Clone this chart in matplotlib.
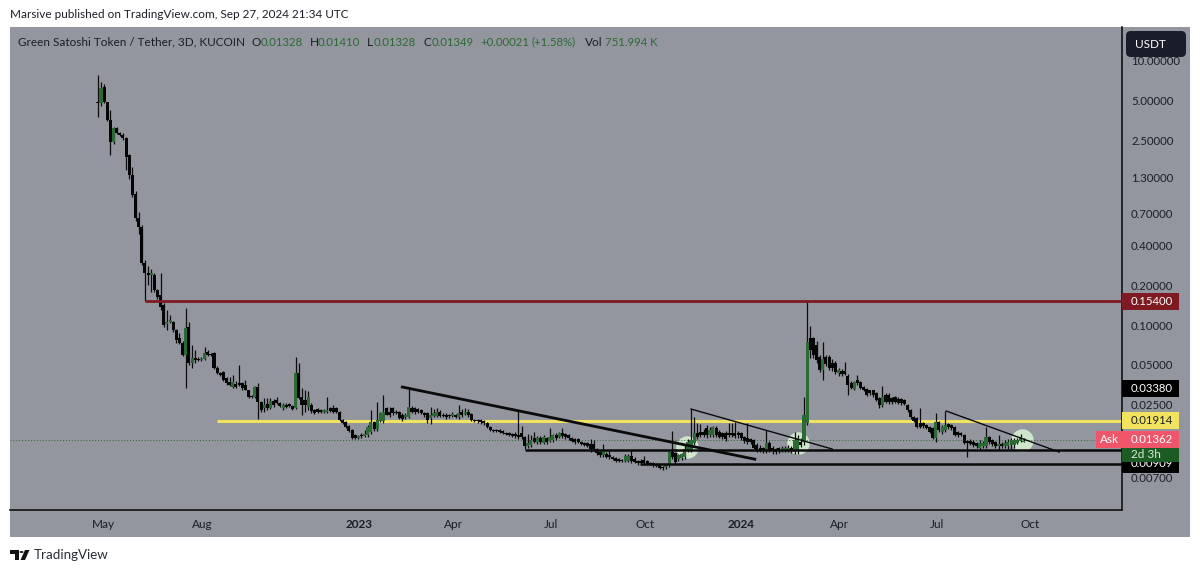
import numpy as np
import pandas as pd
import matplotlib
matplotlib.use('Agg')
import matplotlib.pyplot as plt
from matplotlib.patches import Rectangle, FancyBboxPatch, Polygon, Circle

plt.rcParams['font.family'] = ['Lato', 'DejaVu Sans']

# 3D candles
first_bar = '2022-04-26'
opens = [
    4.97,4.9,6.5,4.97,3.64,2.47,3.15,2.9,2.8,2.65,
    1.98,1.39,1.0,.66,.56,.30,.25,.243,.243,.187,
    .172,.144,.104,.107,.107,.0932,.081,.075,.0603,.098,
    .0525,.0575,.0563,.0552,.0563,.0635,.0612,.0625,.048,.0442,
    .0447,.0403,.0376,.0345,.0364,.037,.037,.0357,.0327,.0295,
    .029,.0345,.0266,.0239,.0257,.0239,.027,.0275,.0261,.0239,
    .0252,.0257,.0248,.0239,.044,.029,.0275,.0243,.0252,.0231,
    .0235,.0231,.0223,.0223,.0239,.0239,.0239,.0223,.0194,.0187,
    .0175,.0163,.0149,.0142,.0149,.0147,.0149,.0157,.0187,.0166,
    .019,.019,.0239,.0223,.0239,.0223,.0223,.0212,.0204,.0204,
    .0239,.0239,.0235,.0231,.022,.022,.0201,.0208,.0208,.0223,
    .0212,.0212,.0212,.0208,.0212,.0204,.0223,.0216,.0223,.0216,
    .0194,.0194,.0194,.019,.0184,.0172,.0163,.0163,.0163,.016,
    .0154,.0154,.0152,.0152,.0149,.0154,.0144,.0123,.0125,.0142,
    .0132,.0142,.013,.0142,.0135,.0137,.0149,.0144,.0154,.0152,
    .0149,.0142,.0139,.0139,.0132,.013,.013,.0128,.0128,.0117,
    .0111,.0105,.0107,.0105,.0102,.01,.0098,.00966,.0095,.0095,
    .0104,.0098,.0095,.0095,.00966,.0095,.00917,.00917,.009,.00885,
    .00855,.00855,.00885,.0111,.0109,.0098,.01,.0102,.0115,.0115,
    .013,.0154,.0157,.0157,.0169,.0149,.0149,.0169,.0157,.0154,
    .0154,.0154,.0154,.0154,.0154,.0154,.0144,.0142,.0139,.0137,
    .0125,.012,.0119,.0113,.013,.0119,.0117,.0119,.0115,.0115,
    .0115,.012,.0111,.0115,.0132,.0132,.0184,.081,.081,.0718,
    .0582,.0464,.0582,.0582,.0525,.0525,.0442,.0455,.0455,.0418,
    .037,.0334,.039,.0376,.0345,.0334,.0327,.0327,.031,.0285,
    .0252,.03,.03,.0285,.029,.028,.028,.0275,.0252,.0231,
    .0204,.0201,.0184,.0184,.0178,.0172,.0169,.0142,.0187,.0157,
    .0163,.0181,.0178,.0172,.0157,.0154,.0149,.0135,.0135,.0132,
    .013,.0119,.0123,.0123,.0144,.0137,.0132,.0123,.0128,.0123,
    .0123,.0125,.0125,.013,.0135,.01328,
]
highs = [
    7.97,7.0,6.85,5.0,4.33,3.2,3.2,2.95,2.9,2.7,
    2.0,1.6,1.05,.73,.58,.316,.285,.27,.25,.19,
    .25,.15,.132,.121,.11,.095,.0885,.077,.137,.107,
    .0718,.0658,.058,.058,.0695,.066,.063,.064,.05,.045,
    .046,.041,.0412,.0426,.038,.0507,.0375,.039,.033,.03,
    .035,.037,.027,.0285,.0285,.0285,.028,.029,.0265,.026,
    .026,.026,.025,.0582,.0525,.034,.0327,.032,.026,.0235,
    .024,.0235,.0235,.029,.0245,.0252,.0245,.0226,.0197,.019,
    .0178,.0165,.0152,.015,.0154,.0163,.0178,.0231,.019,.0266,
    .0225,.03,.0245,.0245,.0245,.023,.0227,.0218,.022,.0345,
    .0248,.0245,.024,.0235,.0225,.0225,.0243,.0235,.0239,.023,
    .0218,.0218,.0216,.0222,.0216,.0252,.0235,.0239,.0235,.022,
    .0197,.0197,.0197,.0194,.0187,.0175,.0166,.0166,.0166,.0163,
    .0157,.0157,.0154,.0157,.023,.0175,.0147,.0152,.0149,.0157,
    .0147,.0147,.0149,.0145,.0169,.0152,.0154,.0157,.0169,.0155,
    .0152,.0145,.0142,.0142,.0135,.0132,.0132,.0139,.0137,.0119,
    .0113,.0128,.0111,.0115,.0104,.0102,.01,.0098,.0107,.0107,
    .0115,.0101,.0097,.0098,.0104,.0097,.0093,.0093,.0091,.009,
    .0087,.009,.0113,.016,.0112,.0108,.011,.0125,.014,.0235,
    .0204,.0184,.0181,.0165,.0178,.0172,.0175,.0175,.0163,.0158,
    .016,.0184,.0184,.0186,.016,.0157,.0147,.0184,.0142,.014,
    .013,.0125,.0121,.0163,.0135,.0123,.012,.0121,.0123,.0123,
    .0125,.0123,.0157,.0149,.0142,.029,.152,.1,.083,.077,
    .06,.0757,.06,.0603,.056,.054,.048,.047,.0535,.043,
    .038,.038,.0426,.0385,.035,.034,.033,.033,.0315,.029,
    .0351,.031,.031,.029,.0295,.029,.0285,.028,.0257,.0235,
    .0208,.0205,.0239,.0187,.0181,.0175,.0172,.0219,.019,.0178,
    .0227,.0185,.0181,.0175,.016,.0157,.0152,.0137,.0139,.0137,
    .0132,.0137,.0135,.0172,.0147,.0139,.0135,.0149,.0132,.0137,
    .0139,.0142,.0142,.0142,.0152,.0141,
]
lows = [
    3.82,4.6,4.9,3.6,1.98,2.4,2.85,2.75,2.55,1.52,
    1.3,.95,.62,.5,.29,.154,.205,.18,.18,.16,
    .132,.098,.093,.105,.09,.075,.073,.059,.034,.0507,
    .0482,.0525,.054,.054,.0552,.059,.059,.047,.043,.042,
    .0385,.036,.035,.034,.034,.035,.033,.0325,.0285,.0285,
    .0285,.0197,.0225,.0223,.0231,.0235,.0245,.0255,.0243,.0232,
    .024,.0245,.023,.0235,.028,.0212,.0223,.023,.022,.0215,
    .0218,.022,.022,.022,.0222,.022,.022,.019,.018,.017,
    .0158,.014,.0139,.014,.0142,.0145,.0145,.0152,.016,.016,
    .0187,.0185,.021,.0205,.0212,.0215,.0197,.0192,.0197,.02,
    .0218,.0215,.0218,.0215,.0205,.0185,.0181,.0203,.0203,.0203,
    .0203,.0197,.02,.0203,.02,.0197,.0205,.021,.0205,.019,
    .0187,.0185,.0182,.0178,.0169,.016,.0157,.0157,.0154,.0152,
    .0149,.0147,.0144,.0142,.014,.014,.0117,.012,.0121,.013,
    .0128,.0128,.0127,.0128,.0132,.0132,.0137,.0142,.0142,.014,
    .0137,.0132,.0128,.013,.0125,.0123,.0121,.0111,.0113,.0105,
    .0102,.0102,.01,.0099,.0097,.0093,.0093,.0093,.0093,.0093,
    .0092,.0092,.0088,.0088,.0088,.0088,.0088,.0086,.0085,.0082,
    .0081,.0082,.0086,.0098,.009,.0095,.0097,.0098,.0112,.0112,
    .0125,.014,.0144,.0145,.0142,.0145,.0144,.0144,.0142,.0139,
    .0135,.0144,.0144,.0142,.0142,.0137,.013,.0128,.0128,.0117,
    .0112,.0111,.0109,.0109,.0111,.0108,.0107,.011,.0111,.0111,
    .0111,.011,.0108,.0108,.0121,.0125,.0178,.0572,.057,.0525,
    .0445,.039,.05,.0465,.046,.043,.042,.042,.0426,.03,
    .0333,.0325,.036,.0333,.032,.0293,.03,.0292,.027,.024,
    .0245,.026,.0258,.0258,.026,.0255,.0252,.025,.0225,.0197,
    .0187,.0169,.0169,.017,.0166,.0154,.014,.0132,.0157,.0152,
    .0158,.0166,.0163,.0147,.0145,.0147,.0127,.0102,.0125,.0121,
    .0119,.0115,.0119,.0119,.0127,.0123,.0119,.0116,.0119,.0119,
    .0118,.0117,.012,.0127,.0132,.01328,
]
closes = [
    4.93,6.4,4.97,3.64,2.47,3.15,2.9,2.8,2.65,1.9,
    1.39,.983,.66,.56,.30,.25,.243,.25,.187,.165,
    .14,.102,.107,.111,.0932,.0783,.075,.0603,.097,.0525,
    .0575,.0552,.0552,.0563,.0625,.0603,.0605,.048,.0442,.0426,
    .039,.0368,.0357,.0376,.0345,.0357,.034,.0327,.029,.029,
    .0345,.0266,.0231,.0252,.0239,.027,.0252,.0261,.0248,.0252,
    .0243,.0248,.0235,.044,.0285,.0252,.0252,.029,.0227,.022,
    .0223,.0223,.0231,.0231,.0227,.0223,.0223,.0194,.0184,.0172,
    .016,.0142,.0142,.0147,.0147,.0152,.0172,.0187,.0166,.0194,
    .022,.0223,.0212,.0212,.022,.022,.0201,.0197,.0212,.0243,
    .0223,.0223,.0223,.022,.0212,.0194,.0212,.022,.0223,.0208,
    .0208,.0204,.0208,.0216,.0204,.022,.0212,.0223,.0212,.0194,
    .019,.019,.0187,.0184,.0172,.0163,.016,.016,.0157,.0154,
    .0152,.0149,.0147,.0147,.0144,.0144,.0123,.013,.0137,.0132,
    .0142,.0132,.0144,.0132,.0144,.0149,.0142,.0154,.0147,.0144,
    .0142,.0135,.0132,.0132,.0128,.0125,.0123,.0117,.0117,.0109,
    .0105,.0113,.0102,.0102,.0098,.0095,.0095,.0095,.0104,.0104,
    .0095,.00933,.00917,.00917,.00917,.009,.009,.00885,.0087,.0084,
    .0084,.00885,.0111,.0102,.00933,.0105,.0107,.0117,.0132,.0137,
    .0154,.0144,.0149,.0149,.0149,.0163,.0172,.0149,.0144,.0144,
    .0139,.0149,.0149,.0147,.0149,.0142,.0135,.0132,.0132,.012,
    .0115,.0115,.0113,.013,.0115,.0113,.0111,.0115,.012,.012,
    .012,.0115,.0137,.0142,.0125,.0212,.0757,.0658,.0603,.0552,
    .0464,.0563,.0515,.048,.048,.0447,.0464,.0432,.0432,.0357,
    .034,.0376,.037,.034,.0327,.03,.031,.03,.0275,.0252,
    .029,.0266,.0266,.0266,.0266,.0261,.0261,.0257,.0231,.0204,
    .019,.0172,.0172,.0175,.0169,.0157,.0142,.0187,.0163,.0172,
    .0178,.0172,.0169,.0149,.0149,.0149,.013,.013,.0128,.0125,
    .0123,.013,.013,.0144,.0132,.0128,.0123,.0128,.0123,.013,
    .0132,.0137,.0137,.0137,.0144,.01349,
]

# drawn levels and trend lines
red_level, red_start = 0.154, '2022-06-10'
yellow_level, yellow_start = 0.01914, '2022-08-18'
support_level, support_start = 0.0116, '2023-06-08'
floor_level, floor_start = 0.00909, '2023-09-26'
last_price = 0.01362
trend_dates = ['2023-02-11', '2024-01-14']
trend_prices = [0.0345, 0.0098]
thin1_dates = ['2023-11-14', '2024-03-28']
thin1_prices = [0.0235, 0.0117]
thin2_dates = ['2024-07-15', '2024-10-31']
thin2_prices = [0.0227, 0.0111]
circle_dates = ['2023-11-10', '2024-02-24', '2024-09-25']
circle_prices = [0.0121, 0.013, 0.0137]

price_ticks = [10, 5, 2.5, 1.3, 0.7, 0.4, 0.2, 0.1, 0.05, 0.025, 0.007]
time_ticks = ['2022-05-01', '2022-08-04', '2023-01-01', '2023-04-01', '2023-07-03',
              '2023-10-01', '2024-01-01', '2024-04-04', '2024-07-06', '2024-10-03']
time_labels = ['May', 'Aug', '2023', 'Apr', 'Jul', 'Oct', '2024', 'Apr', 'Jul', 'Oct']

W, H = 1200, 573
PANEL = '#93969f'
INK = '#1b1e26'
GREEN = '#2b6a35'
FS = 8.5
NUM = 8.2


def box(x0, y0, x1, y1, color, zorder=1):
    fig.add_artist(Rectangle((x0 / W, 1 - y1 / H), (x1 - x0) / W, (y1 - y0) / H, zorder=zorder,
                             transform=fig.transFigure, facecolor=color, edgecolor='none'))


def label(x, y, s, color=INK, size=FS, ha='left', zorder=3, **kw):
    fig.text(x / W, 1 - y / H, s, color=color, fontsize=size, ha=ha, va='center', zorder=zorder, **kw)


def price_y(price):
    return H - ax.transData.transform((0, price))[1]


fig = plt.figure(figsize=(W / 100, H / 100), dpi=100, facecolor='white')
box(10, 27, 1190, 537, PANEL, zorder=-1)

ax = fig.add_axes([10 / W, 1 - 510 / H, 1112 / W, 483 / H], facecolor=PANEL)
ax.set_yscale('log')
ax.set_ylim(0.00404, 18.4)
ax.set_xlim(pd.Timestamp('2022-02-01'), pd.Timestamp('2024-12-30'))
for side in ['top', 'left']:
    ax.spines[side].set_visible(False)
for side in ['right', 'bottom']:
    ax.spines[side].set_color('#111111')
    ax.spines[side].set_linewidth(1.2)
ax.set_xticks([])
ax.set_yticks([])
ax.minorticks_off()
ax.yaxis.set_tick_params(which='both', length=0, labelleft=False)

dates = pd.date_range(first_bar, periods=len(closes), freq='3D')
o = np.array(opens)
c = np.array(closes)
up = c >= o

ax.scatter(pd.to_datetime(circle_dates), circle_prices, s=260, color='#d6efd2', alpha=0.9,
           linewidths=0, zorder=1)
ax.axhline(last_price, color=GREEN, lw=0.7, ls=(0, (1, 2)), zorder=1)

ax.vlines(dates, lows, highs, color='#0c0c0c', lw=0.9, zorder=3)
ax.bar(dates[~up], np.abs(c - o)[~up], bottom=np.minimum(o, c)[~up], width=2.9, color='#050505', zorder=4)
ax.bar(dates[up], np.abs(c - o)[up], bottom=np.minimum(o, c)[up], width=2.9, color=GREEN, zorder=4)

chart_end = pd.Timestamp('2024-12-30')
ax.hlines(red_level, pd.Timestamp(red_start), chart_end, color='#7d1a22', lw=2, zorder=5)
ax.hlines(yellow_level, pd.Timestamp(yellow_start), chart_end, color='#f2e35e', lw=2.2, zorder=2)
ax.hlines(support_level, pd.Timestamp(support_start), chart_end, color='#0a0a0a', lw=1.8, zorder=5)
ax.hlines(floor_level, pd.Timestamp(floor_start), chart_end, color='#0a0a0a', lw=1.8, zorder=5)
ax.plot(pd.to_datetime(trend_dates), trend_prices, color='#0a0a0a', lw=2, zorder=5)
ax.plot(pd.to_datetime(thin1_dates), thin1_prices, color='#0a0a0a', lw=1, zorder=5)
ax.plot(pd.to_datetime(thin2_dates), thin2_prices, color='#0a0a0a', lw=1, zorder=5)

# price scale
for p in price_ticks:
    label(1131, price_y(p), f'{p:.5f}', size=NUM)

box(1122, price_y(0.0338) - 8.5, 1179, price_y(0.0338) + 8.5, '#000000')
label(1131, price_y(0.0338), '0.03380', color='white', size=NUM)
box(1122, price_y(red_level) - 8.5, 1179, price_y(red_level) + 8.5, '#7d1a22')
label(1131, price_y(red_level), '0.15400', color='white', size=NUM)
box(1122, price_y(yellow_level) - 8.5, 1179, price_y(yellow_level) + 8.5, '#f2e35e')
label(1131, price_y(yellow_level), '0.01914', size=NUM)
box(1122, price_y(floor_level) - 9, 1179, price_y(floor_level) + 9, '#000000')
label(1131, price_y(floor_level), '0.00909', color='white', size=NUM, zorder=1.5)
box(1096, 431, 1179, 448, '#f0566a', zorder=2)
label(1100, 439.5, 'Ask', color='white')
label(1131, 439.5, '0.01362', color='white', size=NUM)
box(1122, 448, 1179, 462, '#1c5c24', zorder=2)
label(1131, 454.5, '2d 3h', color='#d8ead8')

btn = FancyBboxPatch((1126 / W, 1 - 57 / H), 60 / W, 26 / H, boxstyle='round,pad=0,rounding_size=0.004',
                     transform=fig.transFigure, facecolor='#1a1d29', edgecolor='none',
                     mutation_aspect=W / H, zorder=4)
fig.add_artist(btn)
label(1135, 44, 'USDT', color='white', zorder=5)

# time scale
for d, s in zip(time_ticks, time_labels):
    x = ax.transData.transform((matplotlib.dates.date2num(pd.Timestamp(d)), 1))[0]
    bold = s.isdigit()
    label(x, 524, s, ha='center', fontweight='bold' if bold else 'normal')

# header and footer
label(10, 15, 'Marsive published on TradingView.com, Sep 27, 2024 21:34 UTC')
label(18, 42, 'Green Satoshi Token / Tether, 3D, KUCOIN')
for x, s in [(252, 'O'), (310, 'H'), (367, 'L'), (423, 'C'), (585, 'Vol')]:
    label(x, 42, s)
for x, s in [(261, '0.01328'), (318, '0.01410'), (374, '0.01328'), (432, '0.01349'),
             (480, '+0.00021'), (531, '(+1.58%)'), (605, '751.994 K')]:
    label(x, 42, s, color=GREEN, size=NUM)

# logo
logo_t = [(10, 550), (19, 550), (19, 560), (14.5, 560), (14.5, 554), (10, 554)]
logo_s = [(25, 550), (29.5, 550), (25, 560), (20.5, 560)]
for pts in [logo_t, logo_s]:
    fig.add_artist(Polygon([(x / W, 1 - y / H) for x, y in pts], transform=fig.transFigure,
                           facecolor='#111111', edgecolor='none'))
fig.add_artist(Circle((21.5 / W, 1 - 552 / H), 2 / W, transform=fig.transFigure,
                      facecolor='#111111', edgecolor='none'))
label(34, 555, 'TradingView', size=9.6, color='#2a2e39')

fig.savefig('out.png', dpi=100, facecolor='white')
